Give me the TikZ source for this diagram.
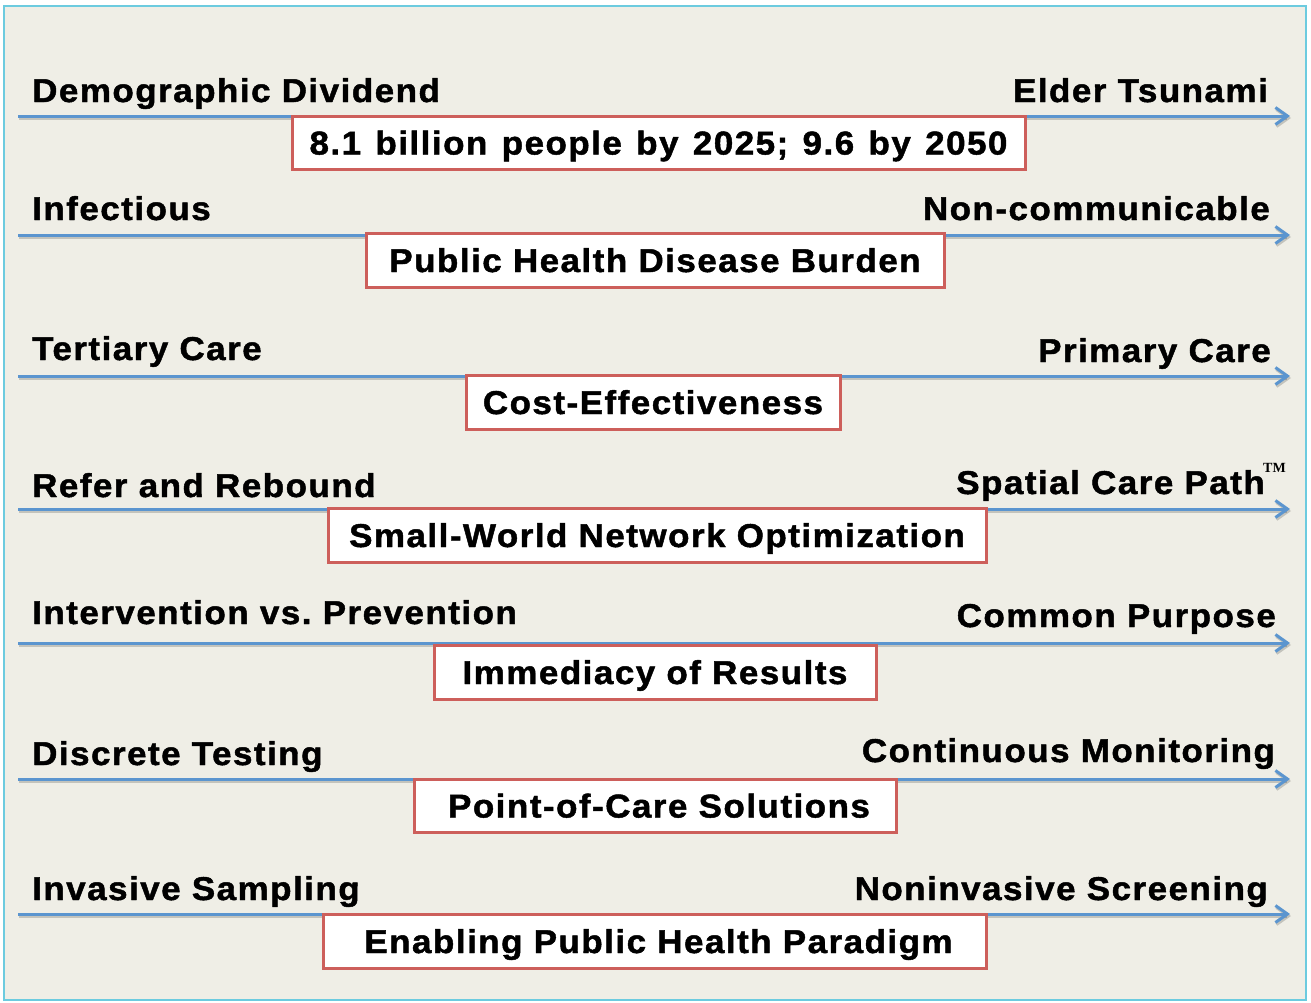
\documentclass[tikz,border=0pt]{standalone}
\usepackage{fontspec}
\setmainfont{Liberation Sans}
\newfontfamily\lblfont{Liberation Sans Bold}[FakeStretch=1.06, LetterSpace=4.5, FakeBold=1.4]
\newfontfamily\tmfont{Liberation Serif Bold}
\usetikzlibrary{arrows.meta,shadows}
\frenchspacing
\definecolor{bgc}{HTML}{EFEEE6}
\definecolor{framec}{HTML}{6CCBDF}
\definecolor{arrc}{HTML}{5B95CF}
\definecolor{boxc}{HTML}{CD5F5B}
\tikzset{
  lbl/.style={font=\lblfont\fontsize{33}{36}\selectfont, inner sep=0pt, text=black},
  lleft/.style={lbl, anchor=base west},
  lright/.style={lbl, anchor=base east},
  box/.style={draw=boxc, line width=3pt, fill=white, font=\lblfont\fontsize{33}{36}\selectfont,
    inner sep=0pt, text height=24pt, text depth=0pt,
    drop shadow={shadow xshift=2pt, shadow yshift=-2pt, opacity=.25, fill=black}},
  axisline/.style={draw=arrc, line width=3pt, -{Straight Barb[length=12pt,width=17pt,line width=3pt]}},
  shadowline/.style={draw=black, opacity=.18, line width=3pt, -{Straight Barb[length=12pt,width=17pt,line width=3pt]}}
}
\begin{document}
\begin{tikzpicture}[x=1pt,y=1pt]
\useasboundingbox (0,0) rectangle (1311,-1002);
\fill[bgc] (4,-6) rectangle (1306,-1000);
\draw[framec, line width=2pt] (4,-6) rectangle (1306,-1000);

% arrow coordinates
\foreach \i/\y in {1/116,2/235,3/376,4/509,5/643,6/779,7/914}{
  \coordinate (s\i) at (18,-\y);
  \coordinate (e\i) at (1290,-\y);
  \coordinate (ss\i) at (19,-\y-2);
  \coordinate (es\i) at (1291,-\y-2);
}
\foreach \i in {1,...,7}{
  \draw[shadowline] (ss\i) -- (es\i);
  \draw[axisline] (s\i) -- (e\i);
}

% row 1
\node[lleft] (l1) at (32,-102) {Demographic Dividend};
\node[lright] (r1) at (1268,-102) {Elder Tsunami};
\node[box, minimum width=733pt, minimum height=53pt] (b1) at (658.5,-142.5) {\spaceskip=1.28\fontdimen2\font\relax 8.1 billion people by 2025; 9.6 by 2050};
% row 2
\node[lleft] (l2) at (32,-220) {Infectious};
\node[lright] (r2) at (1270,-220) {Non-communicable};
\node[box, minimum width=578pt, minimum height=54pt] (b2) at (655,-260) {Public Health Disease Burden};
% row 3
\node[lleft] (l3) at (32,-360) {Tertiary Care};
\node[lright] (r3) at (1271,-362) {Primary Care};
\node[box, minimum width=374pt, minimum height=54pt] (b3) at (653,-402) {Cost-Effectiveness};
% row 4
\node[lleft] (l4) at (32,-497) {Refer and Rebound};
\node[lright] (r4) at (1265,-494) {Spatial Care Path};
\node[anchor=base west, inner sep=0pt, font=\tmfont\fontsize{14}{14}\selectfont] (tm) at (1263,-472) {TM};
\node[box, minimum width=658pt, minimum height=54pt] (b4) at (657,-535) {Small-World Network Optimization};
% row 5
\node[lleft] (l5) at (32,-624) {Intervention vs. Prevention};
\node[lright] (r5) at (1276,-627) {Common Purpose};
\node[box, minimum width=442pt, minimum height=54pt] (b5) at (655,-672) {Immediacy of Results};
% row 6
\node[lleft] (l6) at (32,-765) {Discrete Testing};
\node[lright] (r6) at (1275,-762) {Continuous Monitoring};
\node[box, minimum width=482pt, minimum height=53pt] (b6) at (655,-805.5) {\hspace*{8pt}Point-of-Care Solutions};
% row 7
\node[lleft] (l7) at (32,-900) {Invasive Sampling};
\node[lright] (r7) at (1268,-900) {Noninvasive Screening};
\node[box, minimum width=663pt, minimum height=54pt] (b7) at (654.5,-941) {\hspace*{8pt}Enabling Public Health Paradigm};
\end{tikzpicture}
\end{document}
